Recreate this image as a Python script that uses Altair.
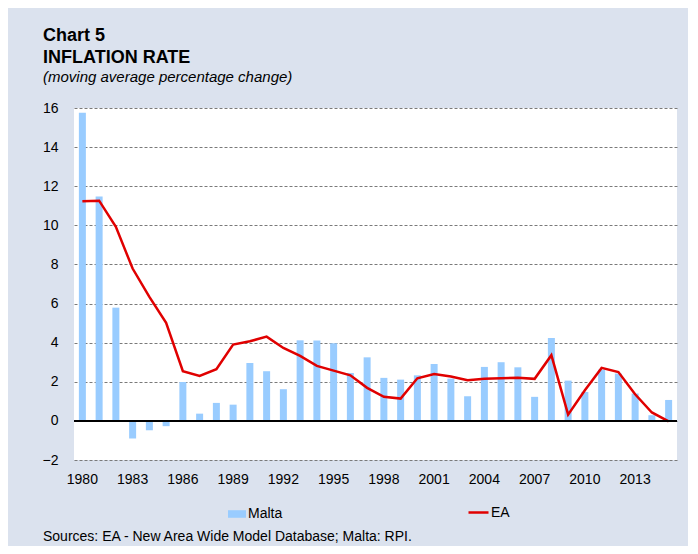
import altair as alt
import pandas as pd

years = list(range(1980, 2016))
malta = [15.76, 11.48, 5.79, -0.90, -0.48, -0.27, 1.99, 0.37, 0.92, 0.83,
         2.96, 2.54, 1.62, 4.12, 4.11, 3.97, 2.45, 3.25, 2.20, 2.11,
         2.33, 2.91, 2.16, 1.26, 2.76, 3.00, 2.74, 1.23, 4.24, 2.06,
         1.48, 2.62, 2.42, 1.40, 0.29, 1.07]
ea = [11.23, 11.26, 9.92, 7.79, 6.34, 5.01, 2.54, 2.30, 2.64, 3.90,
      4.07, 4.31, 3.73, 3.32, 2.81, 2.57, 2.33, 1.69, 1.23, 1.14,
      2.18, 2.40, 2.27, 2.08, 2.16, 2.18, 2.20, 2.15, 3.36, 0.32,
      1.57, 2.71, 2.50, 1.36, 0.43, -0.02]
x_tick_years = list(range(1980, 2014, 3))
y_ticks = list(range(-2, 17, 2))

chart_label = ["Chart 5"]
title_text = ["INFLATION RATE"]
subtitle_text = ["(moving average percentage change)"]
source_text = ["Sources: EA - New Area Wide Model Database; Malta: RPI."]

FONT = "Liberation Sans"
BG = "#dbe2ee"

df = pd.DataFrame({"year": years, "malta": malta, "ea": ea})

xenc = alt.X("year:O",
             scale=alt.Scale(paddingInner=0, paddingOuter=0),
             axis=alt.Axis(values=x_tick_years, labelAngle=0, ticks=False,
                           domain=False, labelPadding=12, labelFontSize=14,
                           labelFont=FONT, labelColor="black", grid=False,
                           labelOverlap=False),
             title=None)

yenc = alt.Y("malta:Q",
             scale=alt.Scale(domain=[-2, 16], nice=False, zero=False),
             axis=alt.Axis(values=y_ticks, tickCount=30, format="d", ticks=False,
                           domain=False, labelOverlap=False,
                           labelPadding=16, labelFontSize=14, labelFont=FONT,
                           labelColor="black", grid=True, gridColor="#7a7a7a",
                           gridDash=[3, 2], gridWidth=1, gridOpacity=1),
             title=None)

bars = alt.Chart(df).transform_calculate(s1="'Malta'").mark_bar(size=7).encode(
    x=xenc,
    y=yenc,
    color=alt.Color("s1:N",
                    scale=alt.Scale(domain=["Malta"], range=["#99ccff"]),
                    legend=alt.Legend(title=None, orient="none", legendX=154,
                                      legendY=397, padding=0,
                                      symbolType="M-1,-0.42H1V0.42H-1Z",
                                      symbolSize=324, symbolStrokeWidth=0,
                                      symbolOpacity=1,
                                      labelFontSize=14, labelFont=FONT,
                                      labelColor="black", labelOffset=2)),
)

line = alt.Chart(df).transform_calculate(s2="'EA'").mark_line(strokeWidth=2.5).encode(
    x=alt.X("year:O"),
    y=alt.Y("ea:Q"),
    stroke=alt.Stroke("s2:N",
                      scale=alt.Scale(domain=["EA"], range=["#e00000"]),
                      legend=alt.Legend(title=None, orient="none", legendX=393,
                                        legendY=393, padding=0,
                                        symbolType="stroke", symbolSize=400,
                                        symbolStrokeWidth=2.5,
                                        labelFontSize=14, labelFont=FONT,
                                        labelColor="black", labelOffset=1)),
)

zero = alt.Chart(pd.DataFrame({"z": [0]})).mark_rule(
    color="black", strokeWidth=2).encode(y=alt.Y("z:Q"))

t1 = alt.Chart(pd.DataFrame({"t": chart_label})).mark_text(
    align="left", baseline="alphabetic", font=FONT, fontSize=18,
    fontWeight="bold", color="black").encode(
    text="t:N", x=alt.value(-31), y=alt.value(-67))

t2 = alt.Chart(pd.DataFrame({"t": title_text})).mark_text(
    align="left", baseline="alphabetic", font=FONT, fontSize=18,
    fontWeight="bold", color="black").encode(
    text="t:N", x=alt.value(-31), y=alt.value(-45))

t3 = alt.Chart(pd.DataFrame({"t": subtitle_text})).mark_text(
    align="left", baseline="alphabetic", font=FONT, fontSize=15,
    fontStyle="italic", color="black").encode(
    text="t:N", x=alt.value(-31), y=alt.value(-26.5))

t4 = alt.Chart(pd.DataFrame({"t": source_text})).mark_text(
    align="left", baseline="alphabetic", font=FONT, fontSize=14,
    color="black").encode(
    text="t:N", x=alt.value(-31), y=alt.value(433))

chart = alt.layer(bars, line, zero, t1, t2, t3, t4).properties(
    width=603, height=352,
    autosize=alt.AutoSizeParams(type="none"),
    padding={"left": 66, "top": 100, "right": 11, "bottom": 86},
    background=BG,
).configure_view(fill="white", stroke=None)

chart.save("out.html", embed_options={"renderer": "svg", "actions": False})
